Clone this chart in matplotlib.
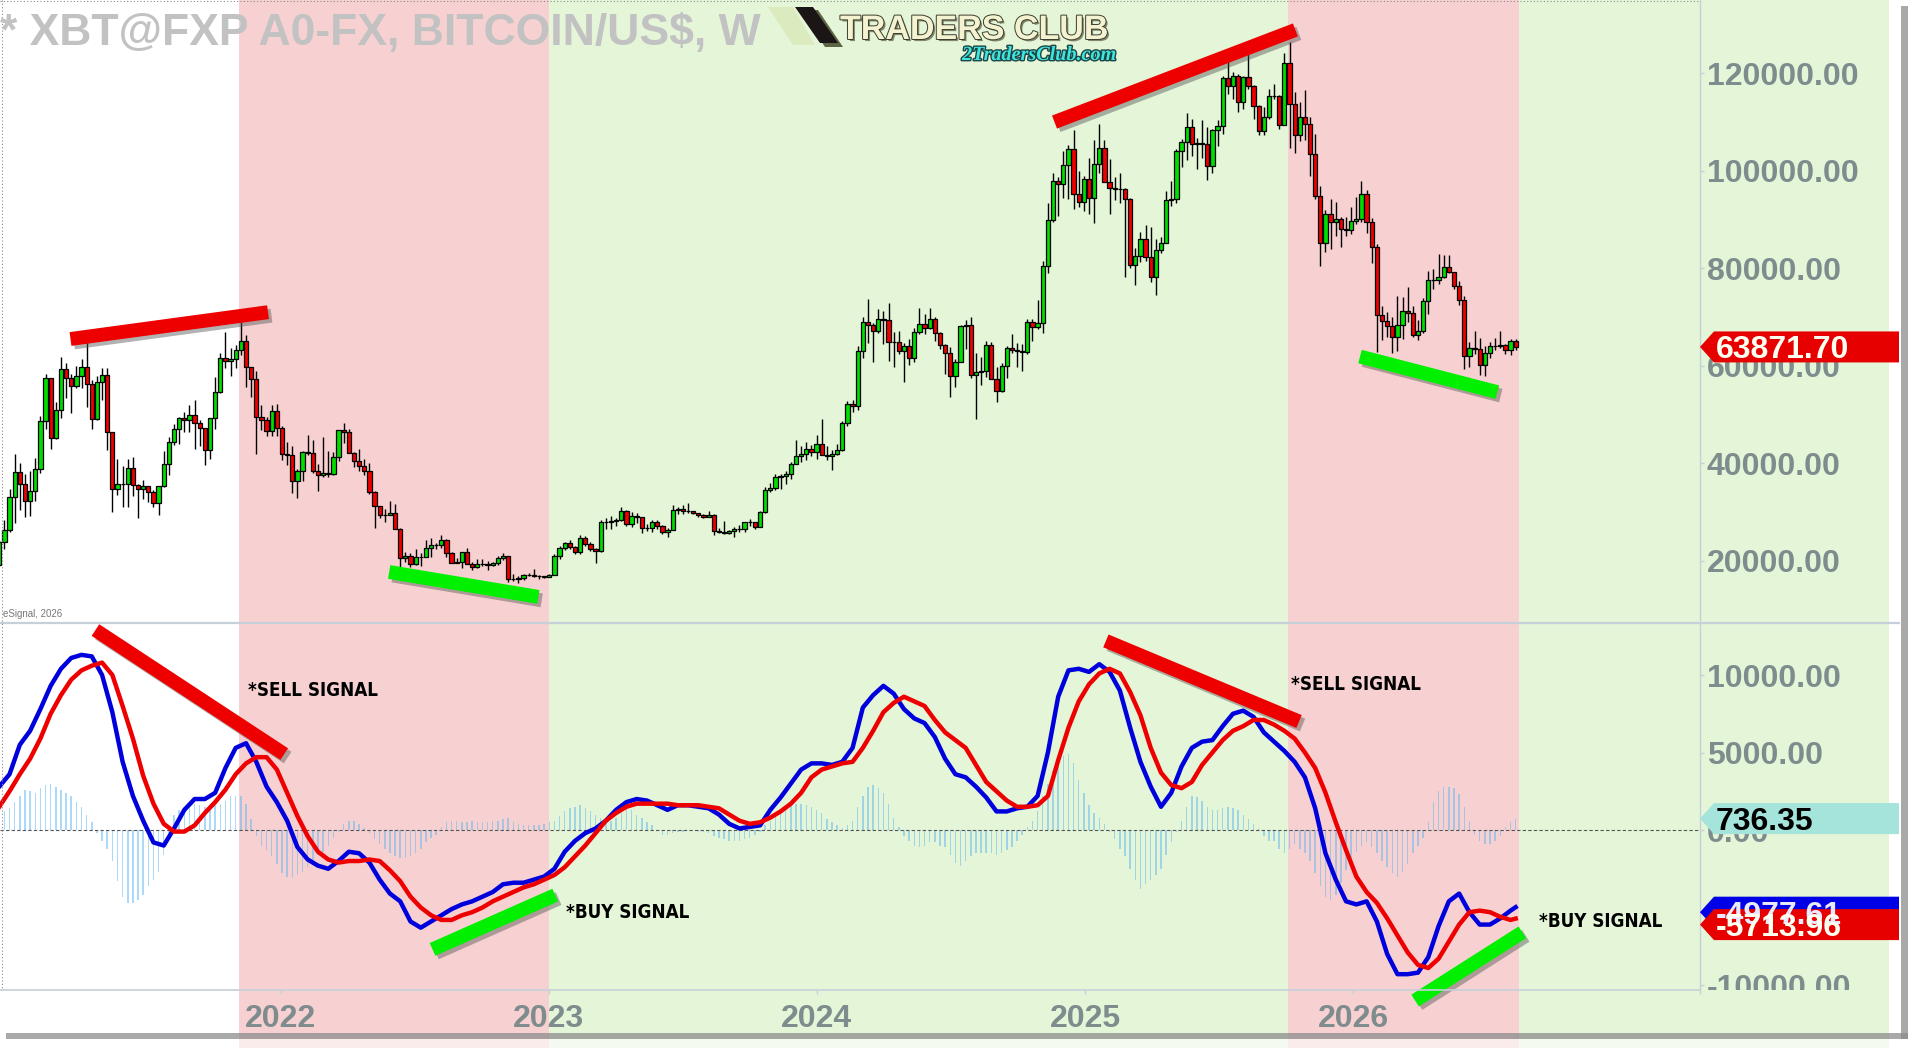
#Weekly BTC candles with MACD panel, eSignal style
import numpy as np
import pandas as pd
import matplotlib
matplotlib.use('Agg')
import matplotlib.pyplot as plt
import matplotlib.dates as mdates
import matplotlib.patheffects as pe
from matplotlib import font_manager
from matplotlib.font_manager import FontProperties
from matplotlib.patches import Polygon, Rectangle
from matplotlib.lines import Line2D
from matplotlib.transforms import Bbox, TransformedBbox

plt.rcParams['font.family'] = ['Liberation Sans', 'DejaVu Sans']

#weekly candles in thousand US$, first week starts 2020-12-14
first_week = '2020-12-14'
first_open = 19.2
closes = [23.8, 26.3, 33.0,
          38.2, 35.8, 32.3, 34.3, 38.9, 48.6, 57.5, 45.2, 51.0, 59.3, 57.4, 55.8, 58.0, 59.8, 56.2, 49.0, 56.6, 58.2,
          46.4, 34.7, 35.7, 35.8, 39.1, 35.5, 34.7, 35.3, 34.2, 31.8, 35.4, 39.9, 44.4, 47.0, 49.3, 48.9, 49.9, 48.2,
          47.3, 42.8, 49.2, 54.7, 61.5, 60.9, 61.3, 63.3, 65.0, 59.7, 57.2, 49.4, 48.9, 46.7, 50.8, 47.3,
          41.9, 41.7, 36.3, 38.5, 42.4, 42.2, 38.4, 37.7, 38.1, 37.8, 41.3, 46.8, 46.4, 42.2, 40.4, 39.5, 38.5, 34.1,
          31.3, 29.4, 29.4, 29.9, 26.6, 20.5, 21.0, 19.3, 20.8, 20.8, 22.6, 23.3, 23.2, 24.3, 21.5, 19.6, 19.8, 21.8,
          19.4, 18.8, 19.3, 19.4, 19.2, 19.6, 20.6, 20.9, 16.3, 16.3, 16.5, 17.1, 17.1, 16.8, 16.8, 16.6,
          17.1, 20.9, 22.7, 23.7, 22.9, 21.8, 24.6, 23.5, 22.4, 22.1, 28.0, 27.9, 28.2, 28.3, 30.3, 27.6, 29.2, 28.9,
          26.8, 26.7, 28.0, 27.1, 25.9, 26.3, 30.5, 30.6, 30.3, 30.2, 29.9, 29.3, 29.0, 29.4, 26.1, 26.0, 25.8, 26.2,
          26.5, 26.5, 27.9, 27.9, 26.9, 30.0, 34.5, 35.0, 37.1, 37.4, 37.8, 39.9, 41.4, 41.9, 43.0, 42.3,
          43.9, 41.7, 41.6, 42.0, 42.7, 48.3, 52.1, 51.7, 63.1, 68.9, 68.4, 67.2, 69.7, 69.4, 64.9, 64.9, 63.1, 64.0,
          61.5, 67.0, 68.5, 67.8, 69.6, 66.7, 64.3, 62.7, 57.9, 60.8, 68.2, 68.3, 58.1, 58.7, 58.9, 64.2, 57.3, 54.9,
          59.9, 63.6, 63.3, 63.0, 62.9, 69.0, 68.0, 68.8, 80.5, 89.9, 98.0, 97.2, 101.2, 104.5, 95.2, 93.7, 98.4,
          94.5, 101.3, 104.7, 97.7, 96.5, 96.2, 96.3, 94.2, 80.7, 82.6, 86.1, 82.3, 78.2, 83.7, 85.2, 94.0, 94.3,
          104.1, 106.0, 109.0, 105.6, 105.7, 105.6, 100.9, 108.4, 109.2, 119.1, 117.3, 119.4, 114.2, 119.3, 117.4,
          113.3, 108.2, 111.1, 115.3, 115.3, 109.5,
          122.2, 113.8, 107.4, 111.1, 109.6, 103.5, 94.8, 85.2, 91.1, 89.5, 90.2, 88.0, 87.8, 89.8, 90.1, 95.3, 89.4,
          84.3, 70.5, 69.1, 68.1, 65.9, 68.3, 71.2, 70.9, 66.3, 67.1, 73.3, 77.5, 77.7, 78.3, 80.3, 79.3, 76.3, 73.6,
          62.0, 63.7, 63.4, 60.2, 62.7, 64.1, 64.0, 64.2, 63.2, 65.1, 63.8717]
highs = [24.3, 28.4, 34.8,
         41.9, 40.1, 37.8, 38.5, 41.0, 49.7, 58.4, 57.5, 52.6, 61.8, 60.6, 58.4, 60.0, 61.3, 64.8, 57.0, 58.0, 59.6,
         59.5, 46.0, 40.9, 39.5, 40.9, 41.3, 35.7, 36.6, 35.1, 34.6, 35.4, 42.6, 45.3, 48.1, 49.4, 50.5, 52.0, 52.9,
         48.8, 47.3, 49.2, 57.8, 62.6, 67.0, 63.7, 64.3, 69.0, 66.3, 59.3, 59.0, 51.9, 49.5, 51.9, 52.1,
         47.6, 44.4, 43.5, 38.9, 42.6, 45.8, 44.7, 39.8, 45.4, 42.5, 42.3, 46.9, 48.2, 47.1, 42.4, 42.9, 40.8, 40.0,
         34.3, 31.3, 30.6, 32.2, 31.6, 26.8, 21.9, 21.5, 22.4, 21.6, 24.2, 24.6, 23.6, 25.2, 24.4, 21.8, 20.6, 21.8,
         22.7, 19.7, 20.3, 20.4, 19.9, 19.7, 21.0, 21.5, 21.0, 17.2, 16.9, 17.3, 17.4, 18.4, 17.0, 16.9,
         17.2, 21.3, 23.1, 23.9, 24.2, 23.1, 25.2, 25.1, 23.9, 22.6, 28.4, 28.8, 29.2, 28.8, 31.0, 30.5, 30.0, 29.8,
         28.6, 27.6, 28.3, 28.4, 27.4, 26.8, 31.4, 31.0, 31.5, 31.8, 30.3, 29.9, 29.7, 30.2, 29.5, 26.8, 28.1, 26.4,
         26.9, 27.4, 28.0, 28.6, 28.0, 30.3, 35.2, 35.9, 37.9, 37.9, 38.4, 40.2, 44.7, 43.5, 44.3, 43.8,
         45.9, 49.0, 43.5, 42.8, 43.9, 48.6, 52.8, 52.9, 64.0, 70.1, 73.8, 68.7, 71.6, 71.3, 72.8, 66.9, 67.2, 64.7,
         65.5, 67.7, 71.9, 70.6, 71.9, 70.1, 66.9, 64.5, 63.8, 61.4, 68.3, 69.4, 70.0, 62.7, 61.8, 65.0, 64.9, 59.8,
         60.6, 64.1, 66.5, 64.7, 64.5, 69.5, 69.5, 73.6, 81.5, 93.4, 99.6, 98.7, 104.0, 105.2, 108.3, 99.9, 98.9,
         102.7, 106.4, 109.6, 106.4, 102.5, 98.8, 99.5, 96.5, 94.4, 84.1, 87.4, 88.8, 88.5, 86.1, 86.4, 95.8, 97.9,
         104.4, 106.5, 111.9, 110.7, 106.8, 110.4, 108.9, 108.5, 110.5, 119.5, 123.1, 120.2, 119.8, 119.4, 124.5,
         117.6, 113.4, 113.0, 116.8, 117.9, 115.6,
         124.1, 126.4, 116.1, 114.1, 116.5, 111.1, 107.5, 96.8, 92.0, 94.2, 93.7, 90.6, 90.6, 92.6, 94.7, 97.9, 96.0,
         90.4, 85.0, 72.3, 71.0, 70.1, 74.4, 74.1, 76.1, 72.3, 69.3, 74.0, 79.5, 79.8, 82.9, 82.7, 82.7, 79.3, 77.4,
         74.4, 64.9, 67.2, 65.7, 64.1, 64.9, 65.8, 67.1, 64.5, 65.6, 65.5]
lows = [19.0, 22.4, 25.9,
        27.7, 30.4, 28.9, 29.2, 32.2, 38.0, 47.1, 43.0, 45.0, 49.3, 53.3, 50.4, 55.5, 55.4, 51.5, 47.0, 48.8, 53.0,
        42.8, 30.0, 33.5, 31.0, 31.0, 33.3, 28.8, 32.7, 32.1, 31.0, 29.3, 35.2, 37.5, 43.8, 43.9, 46.4, 46.5, 43.0,
        43.5, 39.6, 40.8, 47.1, 54.4, 59.6, 58.0, 59.5, 62.3, 55.6, 53.6, 42.0, 46.8, 45.6, 45.5, 45.7,
        40.6, 39.6, 34.0, 32.9, 36.3, 41.7, 38.0, 34.3, 37.2, 37.2, 37.6, 40.5, 44.2, 42.1, 39.2, 38.5, 37.6, 33.7,
        26.7, 28.7, 28.0, 29.3, 26.6, 17.6, 19.7, 18.8, 19.2, 18.9, 20.8, 20.7, 22.5, 22.7, 20.8, 19.5, 19.6, 18.5,
        19.3, 18.1, 18.5, 19.0, 18.2, 18.9, 19.2, 20.1, 15.6, 15.9, 15.5, 16.0, 16.9, 16.6, 16.3, 16.4,
        16.6, 17.1, 20.4, 22.3, 22.5, 21.4, 21.4, 23.1, 22.0, 19.6, 21.9, 26.6, 26.5, 27.2, 28.2, 27.1, 26.9, 27.7,
        25.8, 26.1, 25.9, 26.6, 25.4, 24.8, 26.3, 29.5, 29.7, 29.9, 29.6, 28.9, 28.7, 29.0, 25.2, 25.8, 25.4, 25.4,
        24.9, 26.0, 26.0, 27.2, 26.5, 26.9, 29.9, 34.1, 34.5, 34.8, 35.7, 36.8, 39.9, 40.2, 40.6, 41.4,
        40.8, 41.7, 40.7, 38.6, 41.8, 42.6, 47.7, 50.6, 50.9, 61.5, 64.6, 60.8, 66.7, 64.5, 61.0, 59.7, 62.4, 56.6,
        60.2, 60.8, 66.6, 66.6, 67.6, 65.1, 63.4, 58.4, 53.5, 55.7, 60.7, 63.5, 57.4, 49.0, 56.1, 57.8, 57.2, 52.6,
        54.6, 57.6, 62.7, 59.8, 58.9, 62.4, 65.1, 67.5, 66.8, 79.0, 89.4, 90.8, 94.5, 94.2, 92.2, 92.5, 91.8,
        91.2, 89.3, 99.5, 97.8, 91.2, 94.1, 93.4, 78.2, 80.1, 76.6, 81.2, 81.6, 77.1, 74.5, 83.1, 85.2, 92.8,
        93.4, 100.7, 102.3, 103.1, 100.4, 102.7, 98.2, 99.6, 105.1, 107.5, 115.8, 114.7, 112.0, 112.7, 116.8,
        110.6, 107.4, 107.3, 110.6, 114.7, 108.6,
        109.3, 104.6, 103.6, 106.1, 106.3, 99.0, 94.3, 80.4, 83.4, 83.9, 86.7, 84.4, 86.7, 87.1, 89.0, 89.4, 87.3,
        81.0, 62.9, 65.2, 65.9, 62.6, 63.1, 65.6, 68.9, 65.9, 65.2, 66.8, 70.6, 75.8, 76.8, 78.0, 79.0, 75.8, 72.4,
        59.3, 59.8, 62.4, 58.2, 57.9, 61.6, 63.3, 63.6, 62.4, 62.2, 63.3]

#MACD histogram, one bar per week (thousands)
hist = [1.0, 1.2, 1.4, 1.8, 2.2, 2.6, 2.5, 2.4, 2.7, 2.9,
        3.0, 2.8, 2.6, 2.4, 2.2, 1.8, 1.5, 1.0, 0.5, -0.2,
        -0.7, -1.2, -2.0, -3.3, -4.3, -4.7, -4.7, -4.5, -4.2, -3.6,
        -3.2, -2.7, -1.6, -0.2, 1.0, 1.3, 1.5, 1.6, 1.7, 1.6,
        1.5, 1.5, 1.6, 1.7, 1.9, 2.2, 2.2, 2.2, 1.7, 0.7,
        -0.4, -1.0, -1.3, -1.7, -2.2, -2.8, -3.0, -3.1, -2.9, -2.7,
        -2.4, -2.0, -1.6, -1.4, -1.0, -0.5, -0.1, 0.4, 0.6, 0.6,
        0.4, 0.1, -0.2, -0.6, -0.9, -1.2, -1.5, -1.7, -1.8, -1.8,
        -1.7, -1.5, -1.2, -0.8, -0.5, -0.3, 0.2, 0.5, 0.6, 0.6,
        0.5, 0.5, 0.6, 0.5, 0.5, 0.5, 0.6, 0.6, 0.7, 0.8,
        0.5, 0.4, 0.3, 0.3, 0.3, 0.3, 0.4, 0.5, 0.6, 0.9,
        1.2, 1.4, 1.5, 1.6, 1.4, 1.2, 1.0, 0.8, 0.7, 0.6,
        0.8, 1.1, 1.4, 1.3, 1.0, 0.8, 0.5, 0.3, 0.0, -0.3,
        -0.3, -0.2, -0.1, -0.1, 0.0, 0.0, -0.1, -0.1, -0.2, -0.4,
        -0.5, -0.6, -0.7, -0.7, -0.7, -0.6, -0.5, -0.3, -0.1, 0.3,
        0.6, 1.0, 1.3, 1.4, 1.6, 1.7, 1.7, 1.6, 1.5, 1.3,
        1.1, 0.7, 0.5, 0.3, 0.1, 0.3, 0.6, 1.5, 2.2, 2.8,
        2.9, 2.7, 2.4, 1.7, 0.8, 0.2, -0.4, -0.7, -1.0, -1.1,
        -1.0, -0.8, -0.8, -1.0, -1.1, -1.6, -2.1, -2.3, -2.0, -1.7,
        -1.5, -1.5, -1.5, -1.5, -1.6, -1.5, -1.3, -1.1, -0.7, -0.3,
        0.2, 0.6, 1.2, 2.2, 3.0, 3.8, 4.5, 4.8, 4.9, 4.3,
        3.2, 2.4, 1.6, 1.1, 0.8, 0.4, -0.1, -0.6, -1.2, -1.7,
        -2.5, -3.2, -3.8, -3.5, -3.2, -2.9, -2.5, -1.6, -0.8, -0.1,
        0.6, 1.5, 2.2, 2.1, 1.9, 1.5, 1.3, 1.3, 1.4, 1.5,
        1.4, 1.3, 1.0, 0.7, 0.4, 0.1, -0.4, -0.7, -0.7, -1.2,
        -1.5, -1.2, -0.9, -1.2, -1.5, -2.0, -2.8, -3.6, -4.3, -4.5,
        -4.2, -3.4, -2.6, -1.8, -1.4, -1.0, -0.8, -1.1, -1.5, -2.0,
        -2.4, -2.8, -3.0, -2.7, -2.2, -1.5, -1.0, -0.5, 0.5, 1.8,
        2.5, 2.8, 2.8, 2.7, 2.3, 1.5, 0.6, -0.3, -0.7, -0.9,
        -0.9, -0.7, -0.4, 0.2, 0.5, 0.73635]

#MACD (blue) and signal (red) read every second week, plus the last week
macd_weeks = list(range(0, 296, 2)) + [295]
macd = [2.8, 3.6, 5.5, 6.4, 7.8, 9.3, 10.4, 11.1, 11.3, 11.2,
        10.0, 7.6, 4.4, 2.2, 0.6, -0.8, -1.0, 0.1, 1.3, 2.0,
        2.0, 2.4, 4.0, 5.3, 5.6, 4.4, 2.8, 1.8, 0.6, -1.1,
        -1.9, -2.3, -2.5, -2.0, -1.4, -1.5, -2.1, -3.2, -4.1, -4.6,
        -5.9, -6.3, -5.9, -5.5, -5.1, -4.8, -4.6, -4.3, -4.0, -3.5,
        -3.4, -3.4, -3.2, -3.0, -2.5, -1.4, -0.7, -0.2, 0.1, 0.6,
        1.3, 1.8, 2.0, 1.9, 1.6, 1.3, 1.6, 1.6, 1.5, 1.4,
        1.0, 0.4, 0.1, 0.2, 0.3, 1.3, 2.1, 3.0, 3.9, 4.3,
        4.3, 4.2, 4.4, 5.3, 7.9, 8.7, 9.3, 8.8, 7.8, 7.2,
        6.9, 6.0, 4.6, 3.6, 3.4, 2.8, 2.1, 1.2, 1.2, 1.4,
        1.5, 2.2, 5.0, 8.6, 10.3, 10.4, 10.2, 10.7, 10.2, 9.0,
        6.6, 4.4, 2.8, 1.5, 2.4, 4.1, 5.3, 5.7, 5.8, 6.7,
        7.5, 7.7, 7.3, 6.3, 5.7, 5.1, 4.4, 3.4, 1.4, -1.5,
        -3.2, -4.6, -4.8, -4.6, -5.9, -8.0, -9.3, -9.3, -9.2, -8.2,
        -6.2, -4.6, -4.1, -5.3, -6.1, -6.1, -5.7, -5.2, -4.97761]
signal = [1.5, 2.5, 3.6, 4.6, 5.9, 7.5, 8.7, 9.7, 10.3, 10.6,
          10.8, 10.0, 8.0, 5.9, 3.5, 1.7, 0.4, -0.1, -0.1, 0.3,
          1.1, 1.8, 2.6, 3.6, 4.3, 4.7, 4.7, 3.9, 2.4, 0.9,
          -0.4, -1.4, -1.9, -2.1, -2.0, -2.0, -1.9, -2.0, -2.6, -3.3,
          -4.3, -5.0, -5.5, -5.8, -5.8, -5.5, -5.3, -5.0, -4.6, -4.3,
          -4.0, -3.7, -3.5, -3.2, -2.9, -2.4, -1.7, -1.0, -0.2, 0.6,
          1.1, 1.5, 1.7, 1.7, 1.7, 1.7, 1.6, 1.6, 1.6, 1.5,
          1.4, 1.0, 0.6, 0.4, 0.5, 0.8, 1.2, 1.7, 2.4, 3.4,
          3.9, 4.1, 4.3, 4.4, 5.3, 6.4, 7.6, 8.2, 8.6, 8.3,
          8.0, 7.1, 6.3, 5.8, 5.3, 4.2, 3.1, 2.5, 1.9, 1.5,
          1.5, 1.6, 2.2, 4.5, 6.6, 8.3, 9.4, 10.1, 10.4, 10.1,
          8.9, 7.4, 5.3, 3.7, 2.9, 2.7, 3.1, 4.2, 5.0, 5.8,
          6.4, 6.7, 7.1, 7.1, 6.8, 6.4, 5.9, 5.0, 4.0, 2.4,
          0.5, -1.3, -3.0, -4.0, -4.7, -5.7, -6.8, -7.9, -8.7, -8.9,
          -8.3, -7.2, -6.1, -5.3, -5.2, -5.3, -5.6, -5.8, -5.71396]

#shaded regimes (start, end, colour)
band_starts = ['2021-11-05', '2023-01-01', '2025-10-04', '2026-08-15']
band_ends = ['2023-01-01', '2025-10-04', '2026-08-15', '2028-01-01']
band_colors = ['#F7D1D1', '#E4F5D8', '#F7D1D1', '#E4F5D8']

#hand drawn divergence bars (date0, value0, date1, value1, colour)
price_bars = [('2021-03-21', 65500, '2021-12-15', 71000, '#EE0000'),
              ('2022-05-29', 17700, '2022-12-18', 12600, '#00F000'),
              ('2024-11-20', 110000, '2025-10-14', 128900, '#EE0000'),
              ('2026-01-10', 61900, '2026-07-16', 54600, '#00F000')]
macd_bars = [('2021-04-24', 12900, '2022-01-06', 4900, '#EE0000'),
             ('2022-07-27', -7700, '2023-01-10', -4200, '#00F000'),
             ('2025-01-29', 12200, '2025-10-19', 7000, '#EE0000'),
             ('2026-03-26', -11000, '2026-08-19', -6600, '#00F000')]
signal_texts = [('2021-11-18', 9000, '*SELL SIGNAL'),
                ('2025-10-08', 9400, '*SELL SIGNAL'),
                ('2023-01-25', -5300, '*BUY SIGNAL'),
                ('2026-09-11', -5900, '*BUY SIGNAL')]

price_ticks = [20000, 40000, 60000, 80000, 100000, 120000]
macd_ticks = [-10000, 0, 5000, 10000]
years = ['2022', '2023', '2024', '2025', '2026']

W, H = 1915, 1048
GRAY = '#7F8C8D'
LINE = '#C5D0D8'

#narrow bold face for the signal notes, if one is installed
narrow = [f for f in font_manager.fontManager.ttflist
          if f.weight in (700, 'bold') and f.style == 'normal'
          and ('Narrow' in f.name or 'Condensed' in f.name or 'Narrow' in f.fname or 'Condensed' in f.fname
               or f.stretch in ('condensed', 'semi-condensed', 'extra-condensed'))]
if narrow:
    sig_font = FontProperties(fname=narrow[0].fname, size=13.5)
else:
    sig_font = FontProperties(family='Liberation Sans', weight='bold', size=12)

fig = plt.figure(figsize=(W / 100, H / 100), dpi=100)
fig.patch.set_facecolor('white')

def fx(px):
    return px / W

def fy(py):
    return 1 - py / H

def rect(x0, y0, x1, y1):
    return [x0 / W, 1 - y1 / H, (x1 - x0) / W, (y1 - y0) / H]

x_left = mdates.date2num(pd.Timestamp('2020-12-15'))
x_right = mdates.date2num(pd.Timestamp('2027-04-18'))
px_per_day = 1700 / (x_right - x_left)

#background bands, under both panels and the price scale
ax_bg = fig.add_axes(rect(0, 0, 1899, 1048), zorder=0)
ax_bg.set_xlim(x_left, x_left + 1899 / px_per_day)
ax_bg.set_ylim(0, 1)
ax_bg.set_axis_off()
for s, e, c in zip(band_starts, band_ends, band_colors):
    ax_bg.axvspan(mdates.date2num(pd.Timestamp(s)), mdates.date2num(pd.Timestamp(e)), color=c, lw=0)

dates = pd.date_range(first_week, periods=len(closes), freq='7D')
dn = mdates.date2num(dates)
c = np.array(closes) * 1000
o = np.array([first_open] + closes[:-1]) * 1000
hi = np.array(highs) * 1000
lo = np.array(lows) * 1000

#price panel
ax_p = fig.add_axes(rect(0, 0, 1700, 623), zorder=2)
ax_p.patch.set_visible(False)
ax_p.set_xlim(x_left, x_right)
ax_p.set_ylim(7240, 135040)
ax_p.vlines(dn, lo, hi, color='black', lw=1.0, zorder=3)
body_colors = ['#00DD00' if cc >= oo else '#EE0000' for cc, oo in zip(c, o)]
ax_p.bar(dn, c - o, bottom=o, width=5.8, color=body_colors, edgecolor='black', linewidth=0.9, zorder=4)
ax_p.yaxis.tick_right()
ax_p.set_yticks(price_ticks, labels=['%.2f' % t for t in price_ticks], fontweight='bold')
ax_p.tick_params(axis='y', length=3, width=1, color=LINE, labelsize=23, labelcolor=GRAY, pad=2)
ax_p.set_xticks([])
for s in ax_p.spines.values():
    s.set_visible(False)

#MACD panel
ax_i = fig.add_axes(rect(0, 623, 1700, 990), zorder=2)
ax_i.patch.set_visible(False)
ax_i.set_xlim(x_left, x_right)
ax_i.set_ylim(-10320, 13355)
ax_i.bar(dn, np.array(hist) * 1000, width=2.0, color='#5AB4F0', alpha=0.5, lw=0, zorder=1)
ax_i.axhline(0, color='#555555', lw=0.8, ls=(0, (3, 2)), zorder=2)
ax_i.plot(dn[macd_weeks], np.array(macd) * 1000, color='#0000DD', lw=3.2, zorder=3)
ax_i.plot(dn[macd_weeks], np.array(signal) * 1000, color='#EE0000', lw=3.2, zorder=4)
ax_i.yaxis.tick_right()
ax_i.set_yticks(macd_ticks, labels=['%.2f' % t for t in macd_ticks], fontweight='bold')
ax_i.tick_params(axis='y', length=3, width=1, color=LINE, labelsize=23, labelcolor=GRAY, pad=2)
year_pos = [mdates.date2num(pd.Timestamp(y + '-01-01')) for y in years]
ax_i.set_xticks(year_pos, labels=years, fontweight='bold')
ax_i.tick_params(axis='x', length=3, width=1, color=LINE, labelsize=23, labelcolor=GRAY, pad=7)
for s in ax_i.spines.values():
    s.set_visible(False)
#lowest scale label is cut by the panel edge
clip = TransformedBbox(Bbox([[0, 1 - 990 / H], [1, 1]]), fig.transFigure)
for t in ax_i.yaxis.get_major_ticks():
    t.label2.set_clip_box(clip)
    t.label2.set_clip_on(True)

#divergence bars with a soft shadow
shadow = [pe.SimpleLineShadow(offset=(2.5, -2.5), shadow_color='#555555', alpha=0.45), pe.Normal()]
for ax, bars in [(ax_p, price_bars), (ax_i, macd_bars)]:
    for d0, v0, d1, v1, col in bars:
        ax.plot([mdates.date2num(pd.Timestamp(d0)), mdates.date2num(pd.Timestamp(d1))], [v0, v1],
                color=col, lw=10, solid_capstyle='butt', path_effects=shadow, zorder=6, clip_on=False)

for d, v, txt in signal_texts:
    ax_i.text(mdates.date2num(pd.Timestamp(d)), v, txt, ha='left', va='center',
              fontproperties=sig_font, color='black', zorder=7)

#frame lines
fig.add_artist(Line2D([0, fx(1899)], [fy(623)] * 2, color=LINE, lw=1.6, zorder=5))
fig.add_artist(Line2D([0, fx(1700)], [fy(990)] * 2, color=LINE, lw=1.2, zorder=5))
fig.add_artist(Line2D([fx(1700)] * 2, [fy(0), fy(993)], color=LINE, lw=1.0, zorder=5))
fig.add_artist(Line2D([0, fx(1700)], [fy(1)] * 2, color='#8A8A8A', lw=0.8, ls=(0, (1, 2)), zorder=5))
fig.add_artist(Line2D([fx(2)] * 2, [fy(0), fy(990)], color='#8A8A8A', lw=0.8, ls=(0, (1, 2)), zorder=5))

#drop shadow of the chart window
fig.add_artist(Rectangle((fx(1901), fy(1039)), 7 / W, (1039 - 6) / H, transform=fig.transFigure,
                         color='#8C8C8C', alpha=0.75, lw=0, zorder=1))
fig.add_artist(Rectangle((fx(6), fy(1039)), (1908 - 6) / W, 6 / H, transform=fig.transFigure,
                         color='#8C8C8C', alpha=0.75, lw=0, zorder=1))
fig.add_artist(Rectangle((0, 0), 1, (H - 1039) / H, transform=fig.transFigure,
                         color='white', alpha=0.6, lw=0, zorder=1))

#last value tags on the scale
def tag(ax, value, label, face, tcol, shift=0):
    py = H - ax.transData.transform((x_left, value))[1] + shift
    hh = 15.5
    pts = [(1700, py), (1714, py - hh), (1899, py - hh), (1899, py + hh), (1714, py + hh)]
    fig.add_artist(Polygon([(fx(a), fy(b)) for a, b in pts], closed=True, transform=fig.transFigure,
                           facecolor=face, edgecolor='none', zorder=20))
    em = 23 * 100 / 72
    fig.text(fx(1716), fy(py + 0.36 * em), label, color=tcol, fontsize=23, fontweight='bold',
             ha='left', va='baseline', zorder=21)

tag(ax_p, closes[-1] * 1000, '%.2f' % (closes[-1] * 1000), '#E60000', '#FFFFF2')
tag(ax_i, hist[-1] * 1000, '%.2f' % (hist[-1] * 1000), '#A4E4DA', 'black')
tag(ax_i, macd[-1] * 1000, '%.2f' % (macd[-1] * 1000), '#0000E6', '#E8E8FF', shift=5)
tag(ax_i, signal[-1] * 1000, '%.2f' % (signal[-1] * 1000), '#E60000', '#FFFFF2', shift=6)

#title, logo and footer
fig.text(fx(0), fy(45), '* XBT@FXP A0-FX, BITCOIN/US$, W', fontsize=32, fontweight='bold',
         color='#C2C2C2', ha='left', va='baseline', zorder=10)
fig.add_artist(Polygon([(fx(768), fy(7)), (fx(793), fy(7)), (fx(815), fy(45)), (fx(793), fy(45))],
                       transform=fig.transFigure, facecolor='#DCEAC0', edgecolor='none', zorder=10))
fig.add_artist(Polygon([(fx(800), fy(10)), (fx(818), fy(10)), (fx(843), fy(47)), (fx(825), fy(47))],
                       transform=fig.transFigure, facecolor='#5C6444', edgecolor='none', zorder=10))
fig.add_artist(Polygon([(fx(795), fy(7)), (fx(813), fy(7)), (fx(838), fy(43)), (fx(820), fy(43))],
                       transform=fig.transFigure, facecolor='#1C1515', edgecolor='none', zorder=11))
fig.text(fx(840), fy(39), 'TRADERS CLUB', fontsize=24.5, fontweight='bold', color='#F3F3D2',
         ha='left', va='baseline', zorder=12,
         path_effects=[pe.SimplePatchShadow(offset=(1.5, -1.5), shadow_rgbFace='#6A6A50', alpha=0.8),
                       pe.withStroke(linewidth=1.4, foreground='#3C3C2C')])
fig.text(fx(962), fy(60), '2TradersClub.com', fontsize=14.5, fontweight='bold', fontstyle='italic',
         color='#3EE6E0', family='Liberation Serif', ha='left', va='baseline', zorder=12,
         path_effects=[pe.withStroke(linewidth=2, foreground='#1F4444')])
fig.text(fx(3), fy(614), 'eSignal, 2026', fontsize=7, color='#777777', ha='left', va='center', zorder=10)

fig.savefig('out.png', dpi=100)
